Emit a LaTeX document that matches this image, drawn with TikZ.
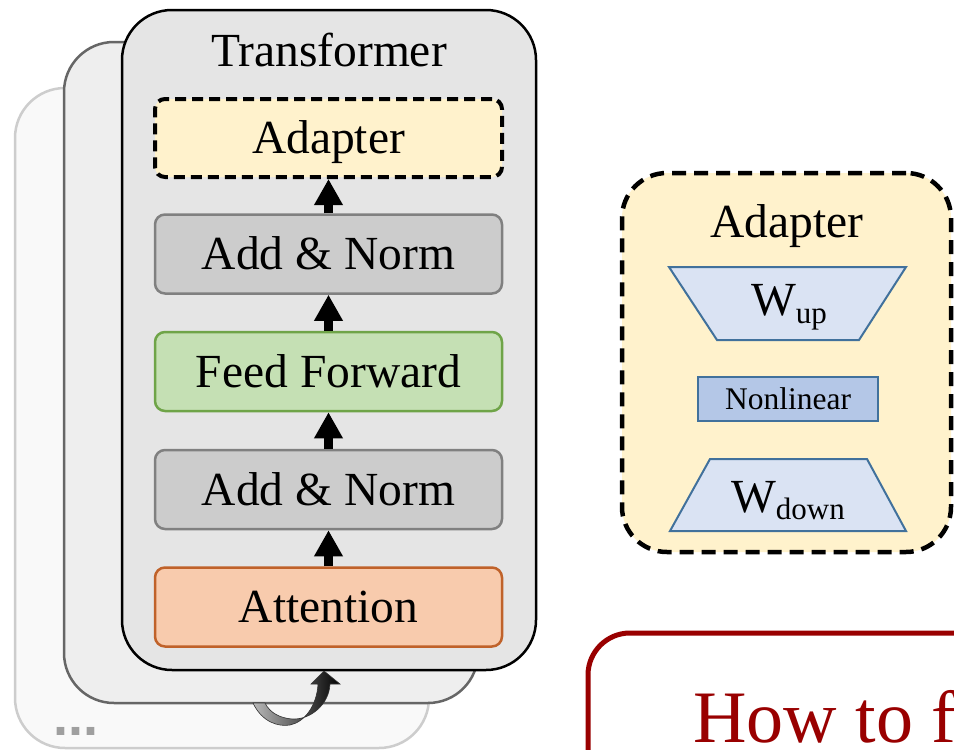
\documentclass[tikz,border=0pt]{standalone}
\usepackage{fontspec}
\setmainfont{Liberation Serif}
\newfontfamily\dotsfont{Liberation Sans}
\usetikzlibrary{arrows.meta}

\definecolor{backfill}{HTML}{F9F9F9}
\definecolor{backline}{HTML}{CDCDCD}
\definecolor{midfill}{HTML}{EEEEEE}
\definecolor{midline}{HTML}{666666}
\definecolor{frontfill}{HTML}{E5E5E5}
\definecolor{normfill}{HTML}{CCCCCC}
\definecolor{normline}{HTML}{808080}
\definecolor{fffill}{HTML}{C5E0B4}
\definecolor{ffline}{HTML}{6FA448}
\definecolor{attfill}{HTML}{F8CBAD}
\definecolor{attline}{HTML}{C0622A}
\definecolor{adfill}{HTML}{FFF2CC}
\definecolor{wfill}{HTML}{DAE3F3}
\definecolor{nlfill}{HTML}{B4C7E7}
\definecolor{wline}{HTML}{41719C}
\definecolor{darkred}{HTML}{990000}

\begin{document}
\begin{tikzpicture}[x=1pt,y=-1pt,
  bigtext/.style={font=\fontsize{47.5}{57}\selectfont},
  layerbox/.style={rectangle, rounded corners=50pt, line width=2.5pt,
    minimum width=414pt, minimum height=660pt, inner sep=0pt},
  block/.style={rectangle, rounded corners=10pt, line width=2.5pt,
    minimum width=347pt, minimum height=79pt, inner sep=0pt,
    bigtext, text height=42.7pt, text depth=11.3pt},
  dashbox/.style={line width=4pt, dash pattern=on 11pt off 6pt},
  upar/.style={-{Triangle[length=26pt,width=27pt]}, line width=9pt},
  wshape/.style={draw=wline, fill=wfill, line width=2pt, line join=miter},
]
\clip (0,0) rectangle (954,750);
\fill[white] (0,0) rectangle (954,750);

% stacked transformer layers
\node[layerbox, draw=backline, fill=backfill] (layerC) at (222,418) {};
\node[anchor=base west, inner sep=0pt, text=gray!75,
  font=\dotsfont\bfseries\fontsize{54}{60}\selectfont] (more) at (53,735) {...};
\node[layerbox, draw=midline, fill=midfill, minimum height=661pt] (layerB) at (271,372.5) {};
\node[layerbox, draw=black, fill=frontfill] (layerA) at (329,340) {};

% recurrent arrow coming out from behind the stack
\shadedraw[left color=gray!55, right color=black, draw=black!80, line width=0.6pt]
  (253,703) .. controls (262,722) and (278,727) .. (290,725)
  .. controls (305,722) and (317,705) .. (318,684)
  -- (311,684) -- (324,671) -- (340,684) -- (330,684)
  .. controls (329,705) and (310,720) .. (292,719)
  .. controls (280,718) and (270,713) .. (265,703) -- cycle;

\node[bigtext, anchor=base, inner sep=0pt] (ttl) at (329,66) {Transformer};

% blocks of one layer
\node[block, fill=adfill, draw=black, dashbox, minimum height=78pt] (adp) at (328.5,138) {Adapter};
\node[block, fill=normfill, draw=normline] (norm2) at (328.5,254) {Add \& Norm};
\node[block, fill=fffill, draw=ffline] (ff) at (328.5,371.5) {Feed Forward};
\node[block, fill=normfill, draw=normline] (norm1) at (328.5,489.5) {Add \& Norm};
\node[block, fill=attfill, draw=attline] (att) at (328.5,607) {Attention};

\draw[upar] (norm2.north) -- (adp.south);
\draw[upar] (ff.north) -- (norm2.south);
\draw[upar] (norm1.north) -- (ff.south);
\draw[upar] (att.north) -- (norm1.south);

% adapter detail
\node[rectangle, rounded corners=45pt, draw=black, fill=adfill,
  line width=4.5pt, dash pattern=on 14pt off 8pt,
  minimum width=329pt, minimum height=379pt] (adbig) at (786.5,362.5) {};
\node[bigtext, anchor=base, inner sep=0pt] (adttl) at (787,237) {Adapter};

\draw[wshape] (669,267) -- (906,267) -- (859,340) -- (717,340) -- cycle;
\node[bigtext, anchor=base, inner sep=0pt] (wup) at (789,315)
  {W\raisebox{-8pt}{\fontsize{31}{31}\selectfont up}};

\node[rectangle, draw=wline, fill=nlfill, line width=2.5pt,
  minimum width=180pt, minimum height=44pt, inner sep=0pt,
  font=\fontsize{31.5}{36}\selectfont, text height=21pt, text depth=0pt] (nl) at (788,399) {Nonlinear};

\draw[wshape] (710,459) -- (867,459) -- (906,531) -- (670,531) -- cycle;
\node[bigtext, anchor=base, inner sep=0pt] (wdown) at (788,512)
  {W\raisebox{-7pt}{\fontsize{31}{31}\selectfont down}};

% question box
\node[rectangle, rounded corners=42pt, draw=darkred, line width=5pt,
  minimum width=462pt, minimum height=217pt] (qbox) at (819,741.5) {};
\node[anchor=base west, inner sep=0pt, text=darkred,
  font=\fontsize{74}{80}\selectfont] (qtext) at (693,742) {How to f};
\end{tikzpicture}
\end{document}
